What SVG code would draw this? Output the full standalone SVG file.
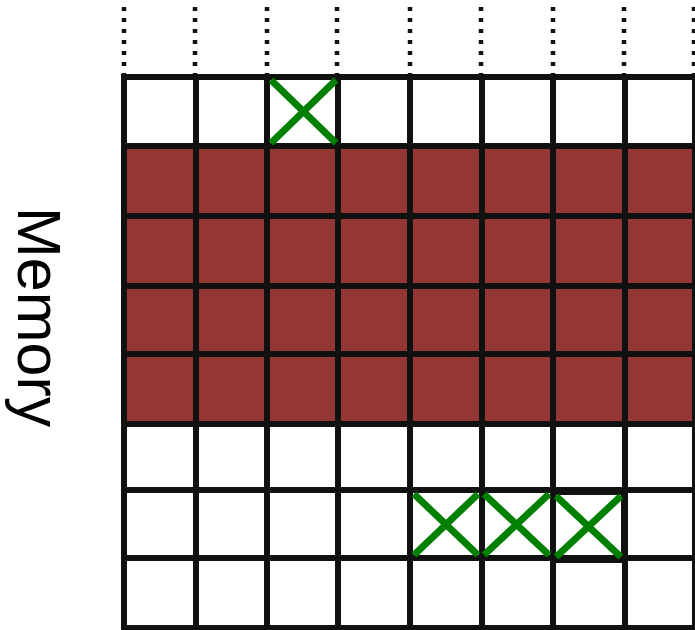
<svg xmlns="http://www.w3.org/2000/svg" width="695" height="630" viewBox="0 0 695 630">
<style>
.dot{stroke:#111;stroke-width:4.5;stroke-dasharray:4 7}
.grid{stroke:#111;stroke-width:6;fill:none;stroke-linecap:square}
.x{stroke:#008000;stroke-width:7;stroke-linecap:butt}
.lbl{font-family:"Liberation Sans",Arial,sans-serif;font-size:61px;fill:#000}
</style>
<rect width="695" height="630" fill="#fff"/>
<g id="label"><text class="lbl" transform="translate(18,207) rotate(90)">Memory</text></g>
<g id="dots">
<line class="dot" x1="124" y1="7" x2="124" y2="77"/>
<line class="dot" x1="195" y1="7" x2="195" y2="77"/>
<line class="dot" x1="267" y1="7" x2="267" y2="77"/>
<line class="dot" x1="337" y1="7" x2="337" y2="77"/>
<line class="dot" x1="410" y1="7" x2="410" y2="77"/>
<line class="dot" x1="481" y1="7" x2="481" y2="77"/>
<line class="dot" x1="553" y1="7" x2="553" y2="77"/>
<line class="dot" x1="624" y1="7" x2="624" y2="77"/>
<line class="dot" x1="694" y1="7" x2="694" y2="77"/>
</g>
<g id="used"><rect x="124" y="146" width="573" height="278" fill="#943634"/></g>
<g id="grid" class="grid">
<line x1="124" y1="77" x2="697" y2="77"/>
<line x1="124" y1="146" x2="697" y2="146"/>
<line x1="124" y1="216" x2="697" y2="216"/>
<line x1="124" y1="286" x2="697" y2="286"/>
<line x1="124" y1="354" x2="697" y2="354"/>
<line x1="124" y1="424" x2="697" y2="424"/>
<line x1="124" y1="490" x2="697" y2="490"/>
<line x1="124" y1="558" x2="697" y2="558"/>
<line x1="124" y1="628" x2="697" y2="628"/>
<line x1="124" y1="77" x2="124" y2="628"/>
<line x1="196" y1="77" x2="196" y2="628"/>
<line x1="267" y1="77" x2="267" y2="628"/>
<line x1="338" y1="77" x2="338" y2="628"/>
<line x1="410" y1="77" x2="410" y2="628"/>
<line x1="482" y1="77" x2="482" y2="628"/>
<line x1="553" y1="77" x2="553" y2="628"/>
<line x1="625" y1="77" x2="625" y2="628"/>
<line x1="695" y1="77" x2="695" y2="628"/>
<rect x="553" y="492" width="71" height="68"/>
</g>
<g id="marks" class="x">
<line x1="271" y1="80" x2="336" y2="143"/><line x1="271" y1="143" x2="336" y2="80"/>
<line x1="414" y1="494" x2="478" y2="555"/><line x1="414" y1="555" x2="478" y2="494"/>
<line x1="484" y1="494" x2="549" y2="555"/><line x1="484" y1="555" x2="549" y2="494"/>
<line x1="556" y1="496" x2="621" y2="557"/><line x1="556" y1="557" x2="621" y2="496"/>
</g>
</svg>
